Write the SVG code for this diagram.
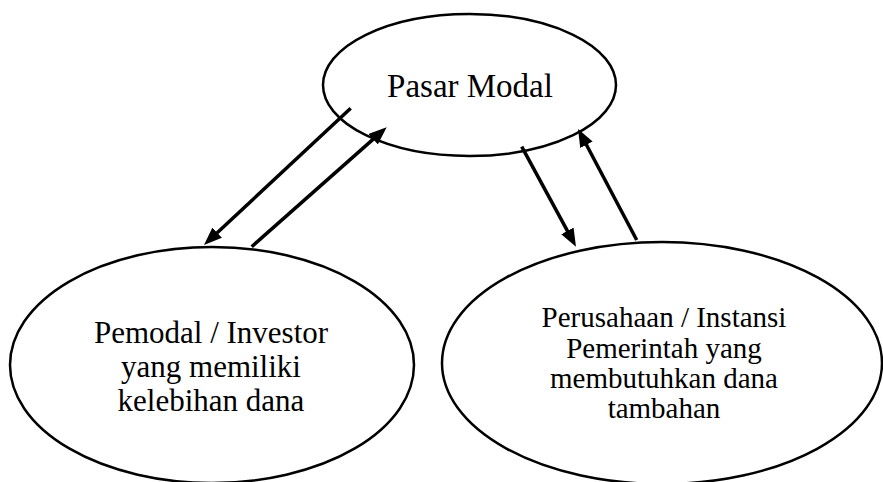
<svg xmlns="http://www.w3.org/2000/svg" width="883" height="482" viewBox="0 0 883 482">
<style>
.node{fill:#fff;stroke:#000;stroke-width:2.5}
.lbl{font-family:"Liberation Serif","Times New Roman",serif;fill:#000;text-anchor:middle}
.conn{stroke:#000;stroke-width:3.5;fill:none;marker-end:url(#ah)}
</style>
<defs>
<marker id="ah" markerUnits="userSpaceOnUse" markerWidth="18" markerHeight="14" refX="8" refY="7" orient="auto" viewBox="0 0 18 14">
<path d="M0,0 L18,7 L0,14 z" fill="#000"/>
</marker>
</defs>
<rect width="883" height="482" fill="#fff"/>
<g id="pasar-modal">
<ellipse class="node" cx="469.5" cy="85" rx="146.5" ry="71"/>
<text class="lbl" x="470" y="97" font-size="33">Pasar Modal</text>
</g>
<g id="pemodal">
<ellipse class="node" cx="212" cy="365" rx="202" ry="118"/>
<text class="lbl" x="211" y="343" font-size="31">Pemodal / Investor</text>
<text class="lbl" x="211" y="377" font-size="31">yang memiliki</text>
<text class="lbl" x="211" y="411" font-size="31">kelebihan dana</text>
</g>
<g id="perusahaan">
<ellipse class="node" cx="662" cy="363" rx="220" ry="121"/>
<text class="lbl" x="664" y="327" font-size="29">Perusahaan / Instansi</text>
<text class="lbl" x="664" y="358" font-size="29">Pemerintah yang</text>
<text class="lbl" x="664" y="388" font-size="29">membutuhkan dana</text>
<text class="lbl" x="664" y="418" font-size="29">tambahan</text>
</g>
<g id="connectors">
<line class="conn" x1="350.7" y1="108.3" x2="211.3" y2="238.2"/>
<line class="conn" x1="251.7" y1="246.7" x2="379.2" y2="133.9"/>
<line class="conn" x1="521.7" y1="146.7" x2="571.2" y2="237.9"/>
<line class="conn" x1="636.7" y1="240" x2="582.7" y2="137.8"/>
</g>
</svg>
